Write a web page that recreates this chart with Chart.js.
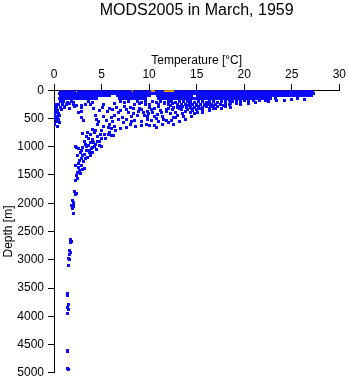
<!DOCTYPE html>
<html>
<head>
<meta charset="utf-8">
<script src="https://cdn.jsdelivr.net/npm/chart.js@4.4.1/dist/chart.umd.min.js"></script>
<style>
  html, body { margin: 0; padding: 0; background: #fff; }
  canvas { display: block; }
</style>
</head>
<body>
<canvas id="profileChart" width="348" height="384"></canvas>
<script>
// ===============================
// DATA
// ===============================
const tempTicks = [0, 5, 10, 15, 20, 25, 30];
const depthTicks = [0, 500, 1000, 1500, 2000, 2500, 3000, 3500, 4000, 4500, 5000];

// surface band: one temperature list per depth level
const bandDepths = [0, 50, 100, 150];
const bandTemps0 = [0.7,1.0,1.3,1.6,1.9,2.2,2.6,2.9,3.2,3.5,3.8,4.1,4.4,4.7,5.0,5.3,5.6,5.9,6.2,6.5,6.8,7.1,7.4,7.7,8.0,8.5,8.8,9.1,9.4,9.7,10.0,10.8,11.1,11.4,12.8,13.1,13.4,13.7,14.0,14.3,14.6,14.9,15.2,15.5,15.8,16.1,16.4,16.7,17.0,17.3,17.6,17.9,18.2,18.5,18.8,19.1,19.4,19.7,20.0,20.3,20.6,20.9,21.2,21.5,21.8,22.1,22.4,22.7,23.0,23.3,23.6,23.9,24.2,24.5,24.8,25.1,25.4,25.7,26.0,26.3,26.6,26.9,27.2];
const bandTemps50 = [0.6,0.9,1.2,1.5,1.8,2.1,2.4,2.7,3.0,3.3,3.6,3.9,4.2,4.5,4.8,5.1,5.4,5.7,6.0,6.3,6.6,6.9,7.2,7.5,7.8,8.1,8.4,8.7,9.0,9.3,9.6,9.9,10.2,10.5,10.8,11.1,11.4,11.7,12.0,12.3,12.6,12.9,13.2,13.5,13.8,14.1,14.4,14.7,15.0,15.3,15.6,15.9,16.2,16.5,16.8,17.1,17.4,17.7,18.0,18.3,18.6,18.9,19.2,19.5,19.8,20.1,20.4,20.7,21.0,21.3,21.6,21.9,22.2,22.5,22.8,23.1,23.4,23.7,24.0,24.3,24.6,24.9,25.2,25.5,25.8,26.1,26.4,26.7,27.0,27.3];
const bandTemps100 = [0.7,1.0,1.3,1.6,1.9,2.2,2.5,2.8,3.1,3.4,3.7,4.0,4.3,4.6,4.9,5.2,5.5,5.8,6.7,7.0,7.3,7.6,7.9,8.2,8.5,8.8,9.1,9.4,9.7,10.0,10.9,11.2,11.5,11.8,12.1,12.4,12.7,13.0,13.3,13.6,13.9,14.2,14.5,15.1,15.4,15.7,16.0,16.3,16.6,16.9,17.2,17.5,17.8,18.1,18.4,18.7,19.0,19.3,19.6,19.9,20.2,20.5,20.8,21.1,21.4,21.7,22.0,22.3,22.6,22.9,23.2,23.5,23.8,24.1,24.4,24.7,25.0,25.3,25.6,25.9,26.2,26.5,26.8,27.1];
const bandTemps150 = [0.6,0.9,1.2,1.5,1.8,2.1,2.4,2.7,3.0,3.3,3.6,3.9,4.2,4.5,6.9,7.2,7.5,7.8,8.1,8.4,8.7,9.0,9.3,9.6,11.0,11.3,11.6,11.9,12.2,12.5,12.8,13.1,13.4,13.7,14.0,14.3,14.6,14.9,15.2,15.5,15.8,16.1,16.4,16.7,17.0,17.3,17.6,17.9,18.2,18.5,18.8,19.1,19.4,19.7,20.0,20.3,20.6,20.9,21.2,21.5,21.8,22.1,22.4,22.8,23.3,25.6];

// scattered blue observations below the band: [temperature, depth]
const blueObs = [
  [0.7,200],[1.0,200],[1.4,210],[1.8,200],[2.1,220],[3.6,200],[4.0,210],[7.0,200],[7.4,210],[7.8,200],[8.8,200],[9.2,210],[9.6,200],[10.4,200],
  [11.2,200],[11.6,210],[12.0,200],[12.4,200],[12.8,210],[13.2,200],[13.6,200],[14.0,205],[14.4,200],[14.8,210],[15.2,200],[15.6,200],[16.0,210],
  [16.4,200],[16.8,200],[17.2,210],[17.6,200],[18.0,200],[18.4,190],[18.8,200],[19.2,190],[19.6,195],[20.0,185],[20.5,190],[21.0,180],[21.6,185],[22.2,175],
  [22.6,200],[23.4,190],[24.2,180],[25.0,170],[26.3,170],
  [0.2,250],[0.5,260],[0.9,250],[1.3,260],[2.0,250],[2.4,270],[2.9,270],[3.3,250],[3.8,260],[5.2,250],[6.4,240],[8.5,250],[9.6,250],[10.0,260],
  [11.0,250],[12.0,250],[12.5,240],[13.0,250],[13.4,260],[13.8,250],[14.2,245],[14.6,255],[15.0,250],[15.4,245],[15.8,250],[16.2,255],[16.6,250],
  [17.0,245],[17.5,250],[18.0,240],[18.6,235],[19.2,230],[19.6,260],[20.4,240],[21.2,220],[1.6,240],[1.1,280],
  [12.2,275],[13.2,280],[14.1,275],[15.0,275],[15.9,270],[16.8,270],[17.8,265],[18.4,260],[11.6,230],[10.8,225],[9.0,230],
  [0.3,300],[0.7,310],[1.1,300],[1.6,320],[2.2,290],[2.9,300],[5.1,310],[6.6,300],[7.4,280],[8.0,300],[9.0,320],[10.0,300],[11.0,280],[12.6,300],
  [13.0,310],[13.5,290],[13.9,300],[14.3,305],[14.8,300],[15.2,295],[15.6,300],[16.0,290],[16.5,295],[17.2,285],[18.0,280],[18.6,300],[17.6,330],
  [4.2,330],[5.8,330],[8.4,330],[16.4,360],[12.0,320],[13.2,330],[14.5,325],[15.3,320],[16.8,315],[10.6,320],
  [0.1,350],[0.4,360],[0.8,350],[5.6,380],[6.2,340],[7.0,360],[9.2,350],[10.2,350],[11.2,360],[12.5,350],[13.4,350],[14.0,340],[14.6,355],[15.0,345],
  [15.6,340],[16.3,330],[17.0,320],[4.8,360],[7.6,350],[8.9,380],[15.6,400],[14.8,420],[11.8,350],[13.8,370],[9.8,380],
  [0.2,400],[0.5,420],[2.6,390],[2.9,380],[6.4,440],[7.8,400],[9.4,400],[9.9,420],[11.3,400],[11.8,380],[12.2,420],[13.5,420],[14.3,400],[15.1,390],
  [6.8,400],[10.4,400],[12.8,390],[8.4,420],[10.9,430],
  [0.1,450],[0.4,470],[0.6,450],[4.4,450],[7.2,480],[8.1,470],[8.8,440],[9.8,470],[10.6,460],[11.4,460],[12.6,480],[13.0,450],[14.5,470],[13.8,510],
  [9.5,450],[13.6,460],[6.0,480],[5.2,460],
  [0.2,500],[0.5,520],[2.9,480],[3.1,540],[4.5,520],[4.7,560],[5.5,540],[6.8,520],[8.5,540],[9.2,560],[10.2,540],[11.5,520],[11.8,540],[12.8,480],[13.2,560],
  [7.6,520],[8.2,560],[9.8,520],[10.8,500],[11.0,560],[12.4,540],[6.2,560],
  [0.3,560],[0.1,600],[0.4,640],[0.6,580],[4.6,600],[5.2,640],[5.7,660],[5.8,600],[6.4,640],[7.3,580],[8.0,610],[8.6,650],[9.7,600],[10.6,620],
  [10.0,630],[11.4,600],[12.0,580],[6.0,680],[6.5,720],[7.0,680],[7.6,660],[10.8,660],[4.0,700],[4.3,750],[5.0,720],[4.4,720],[9.2,620],[12.6,600],
  [5.3,780],[5.8,740],[6.0,800],[5.7,790],[6.3,800],[3.0,760],[3.4,820],[3.8,790],[3.5,740],[4.6,820],[4.9,780],[3.6,850],[4.0,880],[4.2,920],
  [4.6,900],[5.0,860],[5.4,860],[4.8,900],[3.2,900],[3.8,920],[4.4,960],[3.4,1000],[4.1,1020],[4.8,980],[5.0,1000],[3.7,1060],[3.9,1030],[4.5,1050],
  [3.3,960],[3.6,980],[4.3,1000],
  [2.3,1000],[2.6,1040],[3.0,1020],[3.4,1060],[2.8,1100],[3.2,1140],[3.7,1110],[4.1,1100],[2.5,1160],[2.9,1200],[3.5,1190],[2.7,1250],[3.1,1270],
  [3.0,1150],[2.4,1020],[2.9,1060],[3.3,1200],[3.8,1150],
  [2.3,1330],[2.6,1370],[3.0,1410],[2.5,1450],[2.8,1480],[2.4,1510],[2.5,1560],[2.3,1600],[2.6,1300],[2.9,1340],[3.2,1380],[2.7,1420],
  [2.2,1800],[2.4,1820],[2.3,1850],[1.9,1960],[2.1,1980],[2.0,2010],[1.8,2040],[2.1,2050],[1.9,2090],[2.0,2190],[1.7,2650],[1.8,2680],[1.7,2700],
  [1.6,2840],[1.7,2870],[1.6,2900],[1.5,2980],[1.6,3000],[1.5,3100],[1.4,3600],[1.4,3640],[1.5,3800],[1.4,3850],[1.5,3880],[1.4,3950],
  [1.4,4600],[1.4,4630],[1.4,4930],[1.5,4950]
];

// orange observations near the surface
const orangeObs = [[8.2,0],[10.2,0],[10.5,10],[11.6,10],[11.9,20],[12.2,30],[12.5,10]];

// ===============================
// BUILD POINTS
// ===============================
const bandLists = [bandTemps0, bandTemps50, bandTemps100, bandTemps150];
const bluePoints = [];
bandLists.forEach((temps, i) => {
  temps.forEach((t) => bluePoints.push({ x: t, y: bandDepths[i] }));
});
blueObs.forEach((p) => bluePoints.push({ x: p[0], y: p[1] }));
const orangePoints = orangeObs.map((p) => ({ x: p[0], y: p[1] }));

// small solid square used as marker (drawn without smoothing -> crisp pixels)
function makeDot(color) {
  const c = document.createElement("canvas");
  c.width = 3;
  c.height = 3;
  const g = c.getContext("2d");
  g.fillStyle = color;
  g.fillRect(0, 0, 3, 3);
  return c;
}

const crispPoints = {
  id: "crispPoints",
  beforeDatasetsDraw(chart) {
    chart.ctx.imageSmoothingEnabled = false;
  },
};

// ===============================
// CHART
// ===============================
Chart.defaults.font.family = "'Liberation Sans', Arial, sans-serif";
Chart.defaults.color = "#000";

const ctx = document.getElementById("profileChart").getContext("2d");

new Chart(ctx, {
  type: "scatter",
  data: {
    datasets: [
      {
        data: bluePoints,
        backgroundColor: "#0a0aff",
        pointStyle: makeDot("#0a0aff"),
        pointRadius: 2,
        borderWidth: 0,
        order: 1,
      },
      {
        data: orangePoints,
        backgroundColor: "#ffa500",
        pointStyle: makeDot("#ffa500"),
        pointRadius: 2,
        borderWidth: 0,
        order: 2,
      },
    ],
  },
  plugins: [crispPoints],
  options: {
    responsive: false,
    animation: false,
    devicePixelRatio: 1,
    events: [],
    layout: { padding: { top: 0, left: 0, right: 8, bottom: 8.5 } },
    plugins: {
      legend: { display: false },
      tooltip: { enabled: false },
      title: {
        display: true,
        text: "MODS2005 in March, 1959",
        font: { size: 16, weight: "normal" },
        color: "#000",
        padding: { top: 1, bottom: 0 },
        fullSize: false,
      },
    },
    scales: {
      x: {
        type: "linear",
        position: "top",
        min: 0,
        max: 30,
        afterBuildTicks: (axis) => {
          axis.ticks = tempTicks.map((v) => ({ value: v }));
        },
        afterFit: (axis) => {
          axis.height = 70;
        },
        ticks: { font: { size: 12 }, color: "#000", padding: 2, maxRotation: 0, callback: (v) => String(v) },
        grid: { drawOnChartArea: false, drawTicks: true, tickLength: 6, color: "#000" },
        border: { display: true, color: "#000" },
        title: {
          display: true,
          text: "Temperature [°C]",
          font: { size: 12 },
          color: "#000",
          padding: { top: 33, bottom: 0 },
        },
      },
      y: {
        type: "linear",
        reverse: true,
        min: 0,
        max: 5000,
        afterBuildTicks: (axis) => {
          axis.ticks = depthTicks.map((v) => ({ value: v }));
        },
        afterFit: (axis) => {
          axis.width = 54;
        },
        ticks: { font: { size: 12 }, color: "#000", padding: 4, callback: (v) => String(v) },
        grid: { drawOnChartArea: false, drawTicks: true, tickLength: 6, color: "#000" },
        border: { display: true, color: "#000" },
        title: {
          display: true,
          text: "Depth [m]",
          font: { size: 12 },
          color: "#000",
          padding: { top: 1, bottom: 0 },
        },
      },
    },
  },
});
</script>
</body>
</html>
